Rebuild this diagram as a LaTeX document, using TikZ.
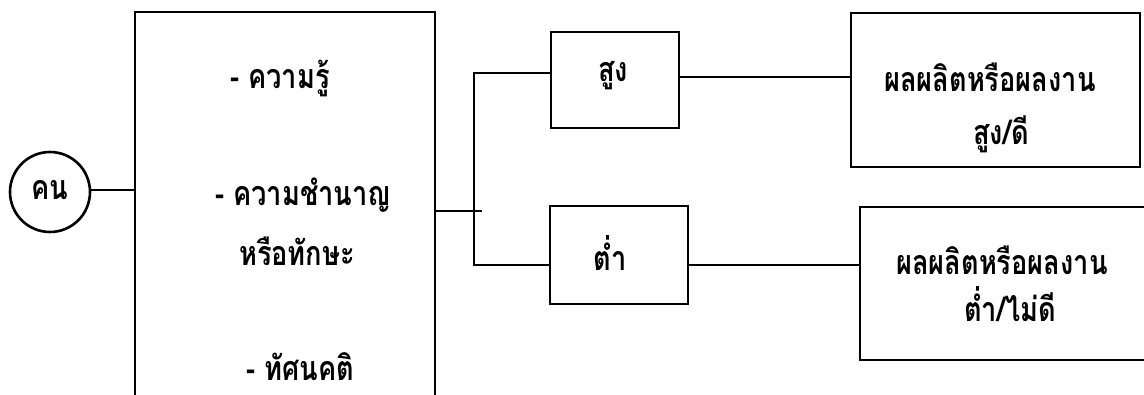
\documentclass[tikz,border=0pt]{standalone}
\usepackage{fontspec}
\usepackage{graphicx}
\newfontfamily\thaifont[Script=Thai]{Loma}
\newcommand{\thtxt}[1]{\scalebox{0.8}[1]{#1}}
\tikzset{
  box/.style={draw, line width=2.6pt, rectangle, inner sep=0pt},
  conn/.style={draw, line width=2pt},
  txt/.style={font=\thaifont\bfseries\fontsize{34}{38}\selectfont, inner sep=0pt},
}
\begin{document}
\begin{tikzpicture}[x=1pt,y=-1pt]
\useasboundingbox (0,0) rectangle (1144,395);
\clip (0,0) rectangle (1144,395);
% nodes
\node[box, circle, minimum size=80pt] (person) at (50,192) {};
\node[txt] (personT) at (50,190) {\thtxt{คน}};
\node[box, minimum width=300pt, minimum height=408pt] (big) at (285,216) {};
\node[box, minimum width=128pt, minimum height=96pt] (high) at (615,80) {};
\node[box, minimum width=138pt, minimum height=98pt] (low) at (619,255) {};
\node[box, minimum width=289pt, minimum height=154pt] (res1) at (995.5,90) {};
\node[box, minimum width=300pt, minimum height=153pt] (res2) at (1010,283.5) {};
% texts
\node[txt] (t1) at (280,78) {\thtxt{- ความรู้}};
\node[txt] (t2) at (303,195) {\thtxt{- ความชำนาญ}};
\node[txt] (t3) at (297,251) {\thtxt{หรือทักษะ}};
\node[txt] (t4) at (300,367) {\thtxt{- ทัศนคติ}};
\node[txt] (th) at (613,76) {\thtxt{สูง}};
\node[txt] (tl) at (610,253) {\thtxt{ต่ำ}};
\node[txt] (r1a) at (990,77) {\thtxt{ผลผลิตหรือผลงาน}};
\node[txt] (r1b) at (1001,134) {\thtxt{สูง/ดี}};
\node[txt] (r2a) at (1002,260) {\thtxt{ผลผลิตหรือผลงาน}};
\node[txt] (r2b) at (1010,304) {\thtxt{ต่ำ/ไม่ดี}};
% connectors
\coordinate (bustop) at (474,73);
\coordinate (busbot) at (474,265);
\coordinate (tickend) at (482,211);
\draw[conn] (person.east |- 0,190) -- (big.west |- 0,190);
\draw[conn] (big.east |- tickend) -- (tickend);
\draw[conn] (bustop -| high.west) -- (bustop) -- (busbot) -- (busbot -| low.west);
\draw[conn] (high.east |- 0,77) -- (res1.west |- 0,77);
\draw[conn] (low.east |- busbot) -- (res2.west |- busbot);
\end{tikzpicture}
\end{document}
